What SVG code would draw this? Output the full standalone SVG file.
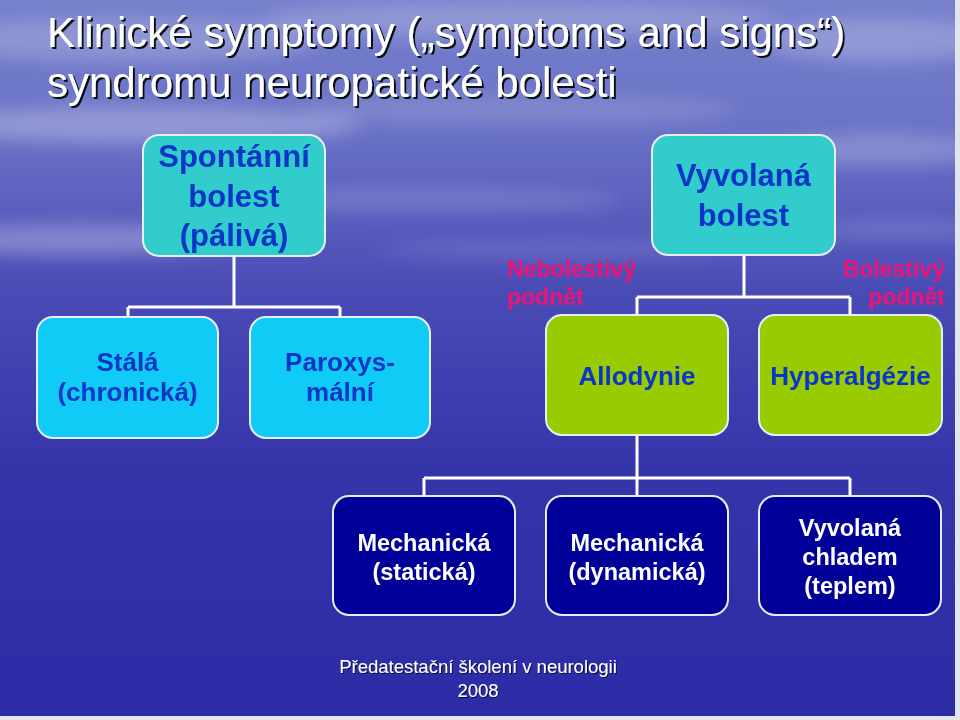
<svg xmlns="http://www.w3.org/2000/svg" width="960" height="720" viewBox="0 0 960 720">
  <defs>
    <linearGradient id="bg" x1="0" y1="0" x2="0" y2="1">
      <stop offset="0" stop-color="#7680cc"/>
      <stop offset="0.18" stop-color="#6a72c6"/>
      <stop offset="0.4" stop-color="#4a4cb6"/>
      <stop offset="0.65" stop-color="#3535aa"/>
      <stop offset="1" stop-color="#2b2ba6"/>
    </linearGradient>
    <filter id="blur" x="-20%" y="-50%" width="140%" height="200%">
      <feGaussianBlur stdDeviation="9"/>
    </filter>
    <filter id="tshadow" x="-5%" y="-20%" width="110%" height="140%">
      <feDropShadow dx="2" dy="2" stdDeviation="0.4" flood-color="#000000" flood-opacity="0.9"/>
    </filter>
    <filter id="fshadow" x="-5%" y="-20%" width="110%" height="140%">
      <feDropShadow dx="1" dy="1" stdDeviation="0.3" flood-color="#000033" flood-opacity="0.8"/>
    </filter>
  </defs>
  <style>
    .box { stroke: #e6eef4; stroke-width: 2; }
    .teal { fill: #33cccc; }
    .cyan { fill: #0fcbf6; }
    .green { fill: #99cc00; }
    .navy { fill: #000099; }
    .t1 { font-family: "Liberation Sans", Arial, sans-serif; font-weight: bold; font-size: 31px; fill: #0a36c8; text-anchor: middle; }
    .t2 { font-family: "Liberation Sans", Arial, sans-serif; font-weight: bold; font-size: 26px; fill: #0a36c8; text-anchor: middle; }
    .t3 { font-family: "Liberation Sans", Arial, sans-serif; font-weight: bold; font-size: 23.5px; fill: #ffffff; text-anchor: middle; }
    .lbl { font-family: "Liberation Sans", Arial, sans-serif; font-weight: bold; font-size: 23px; fill: #ee1477; }
    .title { font-family: "Liberation Sans", Arial, sans-serif; font-size: 42px; fill: #ffffff; }
    .foot { font-family: "Liberation Sans", Arial, sans-serif; font-size: 18.5px; fill: #ffffff; text-anchor: middle; }
    .conn { stroke: #ffffff; stroke-width: 3; fill: none; }
  </style>

  <!-- background -->
  <rect x="0" y="0" width="960" height="720" fill="url(#bg)"/>
  <g filter="url(#blur)" fill="#ffffff">
    <ellipse cx="120" cy="40" rx="200" ry="22" opacity="0.2"/>
    <ellipse cx="520" cy="20" rx="260" ry="18" opacity="0.2"/>
    <ellipse cx="880" cy="40" rx="120" ry="22" opacity="0.22"/>
    <ellipse cx="140" cy="125" rx="220" ry="18" opacity="0.27"/>
    <ellipse cx="520" cy="110" rx="220" ry="14" opacity="0.15"/>
    <ellipse cx="880" cy="150" rx="110" ry="16" opacity="0.22"/>
    <ellipse cx="80" cy="240" rx="160" ry="16" opacity="0.28"/>
    <ellipse cx="420" cy="200" rx="200" ry="12" opacity="0.15"/>
    <ellipse cx="560" cy="250" rx="180" ry="10" opacity="0.12"/>
    <ellipse cx="900" cy="230" rx="90" ry="10" opacity="0.15"/>
  </g>
  <rect x="955" y="0" width="5" height="720" fill="#e2e4ee"/>
  <rect x="0" y="716" width="960" height="4" fill="#e2e4ee"/>

  <!-- title -->
  <g id="title" filter="url(#tshadow)">
    <text class="title" x="47" y="47">Klinické symptomy („symptoms and signs“)</text>
    <text class="title" x="47" y="97">syndromu neuropatické bolesti</text>
  </g>

  <!-- connectors -->
  <g id="connectors" class="conn">
    <path d="M234 256 V307 M128 307 H340 M128 307 V317 M340 307 V317"/>
    <path d="M744 255 V297 M637 297 H850 M637 297 V315 M850 297 V315"/>
    <path d="M637 435 V478 M424 478 H850 M424 478 V496 M637 478 V496 M850 478 V496"/>
  </g>

  <!-- top row -->
  <g id="spontanni">
    <rect class="box teal" x="143" y="135" width="182" height="121" rx="16"/>
    <text class="t1" x="234" y="167">Spontánní</text>
    <text class="t1" x="234" y="207">bolest</text>
    <text class="t1" x="234" y="246">(pálivá)</text>
  </g>
  <g id="vyvolana">
    <rect class="box teal" x="652" y="135" width="183" height="120" rx="16"/>
    <text class="t1" x="743.5" y="186">Vyvolaná</text>
    <text class="t1" x="743.5" y="226">bolest</text>
  </g>

  <!-- edge labels -->
  <g id="label-nebolestivy">
    <text class="lbl" x="507" y="277">Nebolestivý</text>
    <text class="lbl" x="507" y="305">podnět</text>
  </g>
  <g id="label-bolestivy">
    <text class="lbl" x="945" y="277" text-anchor="end">Bolestivý</text>
    <text class="lbl" x="945" y="305" text-anchor="end">podnět</text>
  </g>

  <!-- second row -->
  <g id="stala">
    <rect class="box cyan" x="37" y="317" width="181" height="121" rx="16"/>
    <text class="t2" x="127.5" y="371">Stálá</text>
    <text class="t2" x="127.5" y="401">(chronická)</text>
  </g>
  <g id="paroxysmalni">
    <rect class="box cyan" x="250" y="317" width="180" height="121" rx="16"/>
    <text class="t2" x="340" y="371">Paroxys-</text>
    <text class="t2" x="340" y="401">mální</text>
  </g>
  <g id="allodynie">
    <rect class="box green" x="546" y="315" width="182" height="120" rx="16"/>
    <text class="t2" x="637" y="385">Allodynie</text>
  </g>
  <g id="hyperalgezie">
    <rect class="box green" x="759" y="315" width="183" height="120" rx="16"/>
    <text class="t2" x="850.5" y="385">Hyperalgézie</text>
  </g>

  <!-- bottom row -->
  <g id="mech-staticka">
    <rect class="box navy" x="333" y="496" width="182" height="119" rx="16"/>
    <text class="t3" x="424" y="551">Mechanická</text>
    <text class="t3" x="424" y="580">(statická)</text>
  </g>
  <g id="mech-dynamicka">
    <rect class="box navy" x="546" y="496" width="182" height="119" rx="16"/>
    <text class="t3" x="637" y="551">Mechanická</text>
    <text class="t3" x="637" y="580">(dynamická)</text>
  </g>
  <g id="chladem">
    <rect class="box navy" x="759" y="496" width="182" height="119" rx="16"/>
    <text class="t3" x="850" y="536">Vyvolaná</text>
    <text class="t3" x="850" y="565">chladem</text>
    <text class="t3" x="850" y="594">(teplem)</text>
  </g>

  <!-- footer -->
  <g id="footer" filter="url(#fshadow)">
    <text class="foot" x="478" y="673">Předatestační školení v neurologii</text>
    <text class="foot" x="478" y="697">2008</text>
  </g>
</svg>
